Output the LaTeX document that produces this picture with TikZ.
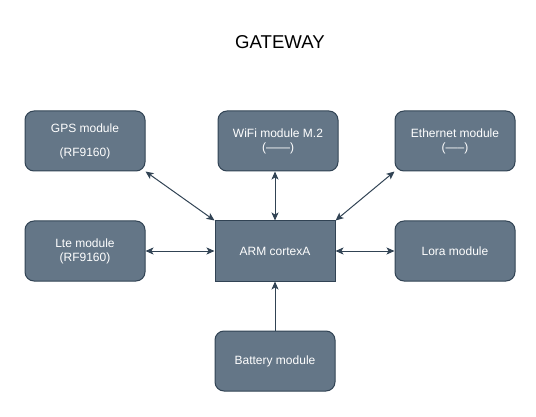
\documentclass[tikz,border=0pt]{standalone}
\usepackage{fontspec}
\setmainfont{Liberation Sans}
\usetikzlibrary{arrows.meta}
\definecolor{boxfill}{HTML}{647687}
\definecolor{boxline}{HTML}{314354}
\tikzset{
  module/.style={draw=boxline, fill=boxfill, line width=1pt, rounded corners=9pt, text=white,
    minimum width=120pt, minimum height=60pt, align=center, font=\fontsize{12}{14}\selectfont},
  core/.style={module, rounded corners=0pt},
  link/.style={boxline, line width=1pt, {Stealth[length=8pt,width=7pt,inset=2pt]}-{Stealth[length=8pt,width=7pt,inset=2pt]}},
  feed/.style={boxline, line width=1pt, -{Stealth[length=8pt,width=7pt,inset=2pt]}}
}
\begin{document}
\begin{tikzpicture}[x=1pt,y=-1pt]
\useasboundingbox (0,0) rectangle (536,417);
\node[font=\fontsize{18.6}{22}\selectfont] (title) at (280,42) {GATEWAY};
\node[module] (gps) at (85,141) {GPS module\\[10pt](RF9160)};
\node[module] (wifi) at (278,141) {WiFi module M.2\\(——)};
\node[module] (eth) at (455,141) {Ethernet module\\(—–)};
\node[module] (lte) at (85,251) {Lte module\\(RF9160)};
\node[core] (arm) at (275,251) {ARM cortexA};
\node[module] (lora) at (455,251) {Lora module};
\node[module] (bat) at (275,361) {Battery module};
\draw[link] (gps.south east) -- (arm.north west);
\draw[link] (wifi.south -| arm.north) -- (arm.north);
\draw[link] (eth.south west) -- (arm.north east);
\draw[link] (lte) -- (arm);
\draw[link] (lora) -- (arm);
\draw[feed] (bat) -- (arm);
\end{tikzpicture}
\end{document}
